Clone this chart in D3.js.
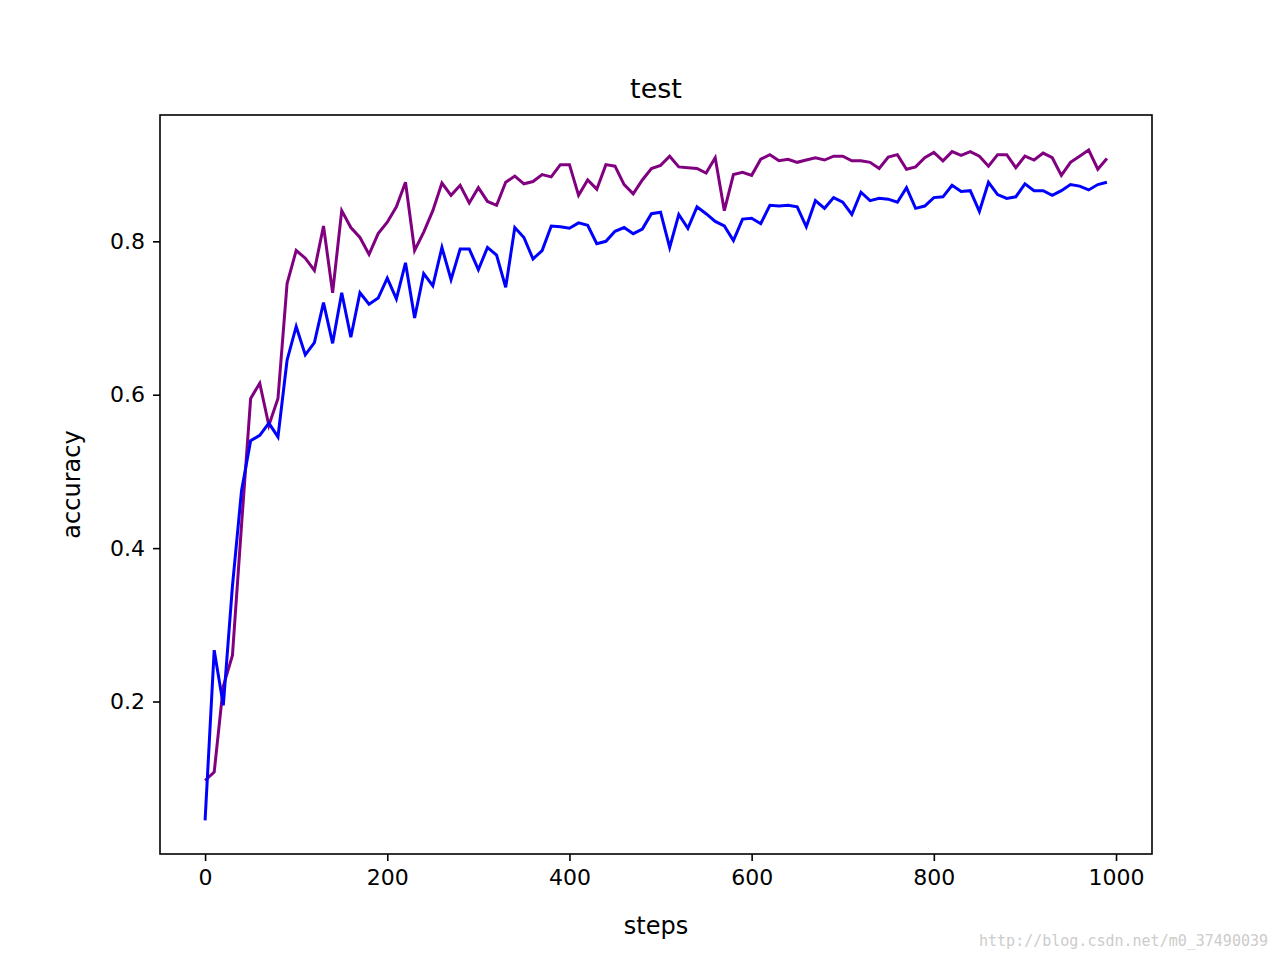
<!DOCTYPE html><html><head><meta charset="utf-8"><script src="https://d3js.org/d3.v7.min.js"></script>
<style>body{margin:0;background:#fff}svg{font-family:"DejaVu Sans",sans-serif}</style></head><body>
<script>
const steps = d3.range(0, 1000, 10);
const purpleVals = [0.097,0.108,0.22,0.26,0.43,0.595,0.615,0.56,0.595,0.745,0.788,0.778,0.762,0.82,0.733,0.84,0.818,0.805,0.783,0.81,0.825,0.845,0.877,0.788,0.812,0.84,0.876,0.86,0.873,0.85,0.87,0.852,0.847,0.877,0.885,0.875,0.878,0.887,0.884,0.9,0.9,0.86,0.88,0.868,0.9,0.898,0.874,0.862,0.88,0.895,0.899,0.911,0.897,0.896,0.895,0.889,0.909,0.84,0.887,0.89,0.886,0.907,0.913,0.905,0.907,0.903,0.906,0.909,0.906,0.911,0.911,0.905,0.905,0.903,0.895,0.91,0.913,0.894,0.897,0.909,0.916,0.905,0.917,0.912,0.917,0.911,0.898,0.913,0.913,0.896,0.911,0.906,0.915,0.909,0.886,0.903,0.911,0.919,0.894,0.908];
const blueVals = [0.045,0.267,0.195,0.35,0.475,0.54,0.547,0.563,0.545,0.645,0.689,0.652,0.668,0.72,0.667,0.733,0.675,0.733,0.718,0.726,0.752,0.725,0.772,0.7,0.758,0.742,0.792,0.75,0.79,0.79,0.763,0.792,0.782,0.74,0.818,0.805,0.777,0.788,0.82,0.819,0.817,0.824,0.821,0.797,0.8,0.813,0.818,0.81,0.816,0.836,0.838,0.792,0.835,0.817,0.845,0.836,0.826,0.82,0.801,0.829,0.83,0.823,0.847,0.846,0.847,0.845,0.819,0.853,0.843,0.857,0.851,0.835,0.864,0.853,0.856,0.855,0.851,0.87,0.843,0.846,0.857,0.858,0.873,0.865,0.866,0.839,0.877,0.861,0.856,0.858,0.875,0.866,0.866,0.86,0.866,0.874,0.872,0.867,0.874,0.877];
const xTicks = [0,200,400,600,800,1000];
const yTicks = [0.2,0.4,0.6,0.8];

const L=160,R=1152,T=115,B=854;
const svg=d3.select("body").append("svg").attr("width",1280).attr("height",960);
const x=d3.scaleLinear().domain([-49.5,1039.5]).range([L,R]);
const y=d3.scaleLinear().domain([0.0012,0.9647]).range([B,T]);
const line=d3.line().x((d,i)=>x(steps[i])).y(d=>y(d));
svg.append("path").datum(purpleVals).attr("d",line).attr("fill","none").attr("stroke","purple").attr("stroke-width",3);
svg.append("path").datum(blueVals).attr("d",line).attr("fill","none").attr("stroke","blue").attr("stroke-width",3);
svg.append("rect").attr("x",L).attr("y",T).attr("width",R-L).attr("height",B-T).attr("fill","none").attr("stroke","#000").attr("stroke-width",1.6);
const xa=svg.append("g").attr("transform",`translate(0,${B})`).call(d3.axisBottom(x).tickValues(xTicks).tickSize(7).tickPadding(8).tickFormat(d3.format("d")));
const ya=svg.append("g").attr("transform",`translate(${L},0)`).call(d3.axisLeft(y).tickValues(yTicks).tickSize(7).tickPadding(8).tickFormat(d3.format(".1f")));
[xa,ya].forEach(a=>{a.select(".domain").remove();a.selectAll("line").attr("stroke-width",1.6);a.selectAll("text").attr("font-size",22).attr("font-family","DejaVu Sans").attr("fill","#000");});
svg.append("text").attr("x",(L+R)/2).attr("y",98).attr("text-anchor","middle").attr("font-size",27).text("test");
svg.append("text").attr("x",(L+R)/2).attr("y",934).attr("text-anchor","middle").attr("font-size",24).text("steps");
svg.append("text").attr("transform",`translate(80,${(T+B)/2}) rotate(-90)`).attr("text-anchor","middle").attr("font-size",24).text("accuracy");
svg.append("text").attr("x",1268).attr("y",946).attr("text-anchor","end").attr("font-size",15).attr("font-family","DejaVu Sans Mono").attr("fill","#ccc").text("http://blog.csdn.net/m0_37490039");
</script></body></html>
